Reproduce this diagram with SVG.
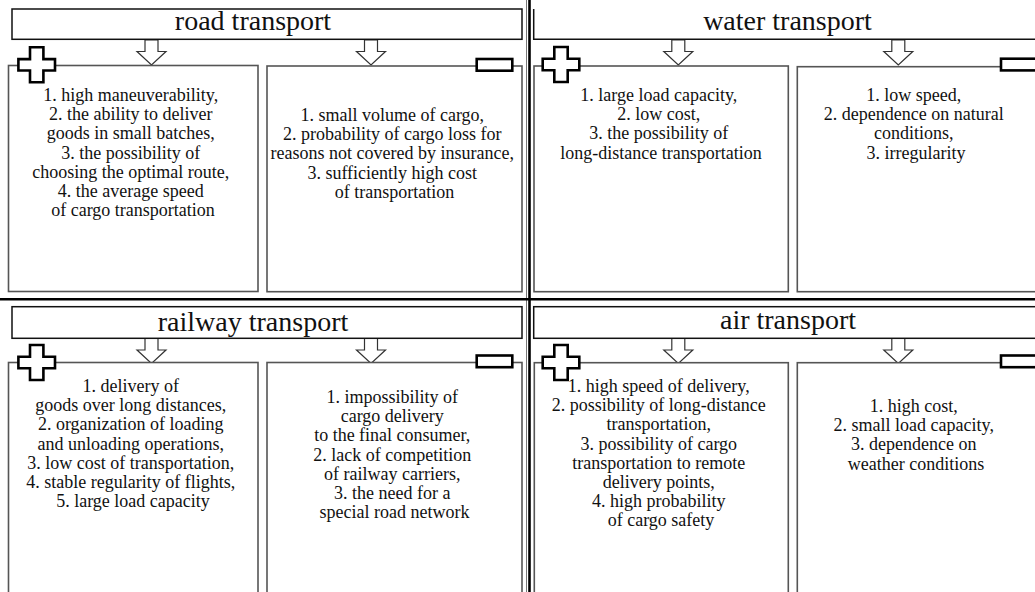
<svg xmlns="http://www.w3.org/2000/svg" xmlns:xlink="http://www.w3.org/1999/xlink" width="1035" height="592" viewBox="0 0 1035 592">
  <defs>
    <style>
      .title { fill: #fff; stroke: #111; stroke-width: 1.5; }
      .box { fill: #fff; stroke: #555; stroke-width: 1.6; }
      .arrow { fill: #fff; stroke: #333; stroke-width: 1.2; }
      .sign { fill: #fff; stroke: #000; stroke-width: 2.6; }
      .div-thin { stroke: #777; stroke-width: 1; }
      .div-thick { stroke: #000; stroke-width: 2.6; }
      text { font-family: "Liberation Serif", "Times New Roman", serif; fill: #111; text-anchor: middle; }
      .h { font-size: 28px; }
      .t { font-size: 18px; }
    </style>
    <!-- hollow down arrow, origin at top centre of the shaft -->
    <path id="down" class="arrow" d="M-6.5,0 H6.5 V11.5 H14.5 L0,25 L-14.5,11.5 H-6.5 Z"/>
    <!-- advantages marker -->
    <path id="plus" class="sign" d="M-6.7,-17.5 H6.7 V-5.7 H18.3 V5.7 H6.7 V17.5 H-6.7 V5.7 H-18.3 V-5.7 H-6.7 Z"/>
    <!-- disadvantages marker -->
    <rect id="minus" class="sign" x="0" y="0" width="35.6" height="11.7"/>
  </defs>

  <rect width="1035" height="592" fill="#fff"/>

  <!-- quadrant dividers -->
  <g id="dividers">
    <line class="div-thin" x1="526.5" y1="0" x2="526.5" y2="592"/>
    <line class="div-thick" x1="529.5" y1="0" x2="529.5" y2="592"/>
    <line class="div-thick" x1="0" y1="299.3" x2="1035" y2="299.3"/>
  </g>

  <!-- title to column arrows -->
  <g id="connectors">
    <use xlink:href="#down" x="151.5" y="40"/>
    <use xlink:href="#down" x="371" y="40"/>
    <use xlink:href="#down" x="678.3" y="40"/>
    <use xlink:href="#down" x="898.3" y="40"/>
    <use xlink:href="#down" x="151.5" y="338.5"/>
    <use xlink:href="#down" x="371" y="338.5"/>
    <use xlink:href="#down" x="678.3" y="338.5"/>
    <use xlink:href="#down" x="898.3" y="338.5"/>
  </g>

  <!-- road transport -->
  <g id="road-title">
    <rect class="title" x="12" y="9" width="510" height="30.3"/>
    <text class="h" x="253" y="30">road transport</text>
  </g>
  <g id="road-pros">
    <rect class="box" x="8.5" y="65.5" width="249.5" height="226"/>
    <use xlink:href="#plus" x="36.7" y="64.8"/>
    <text class="t" x="133">
      <tspan x="133" y="101">1. high maneuverability,</tspan>
      <tspan x="133" dy="19.2">2. the ability to deliver</tspan>
      <tspan x="133" dy="19.2">goods in small batches,</tspan>
      <tspan x="133" dy="19.2">3. the possibility of</tspan>
      <tspan x="133" dy="19.2">choosing the optimal route,</tspan>
      <tspan x="133" dy="19.2">4. the average speed</tspan>
      <tspan x="133" dy="19.2">of cargo transportation</tspan>
    </text>
  </g>
  <g id="road-cons">
    <rect class="box" x="267" y="66" width="255" height="225.7"/>
    <use xlink:href="#minus" x="476.7" y="59"/>
    <text class="t" x="394.5">
      <tspan x="394.5" y="121">1. small volume of cargo,</tspan>
      <tspan x="394.5" dy="19.2">2. probability of cargo loss for</tspan>
      <tspan x="394.5" dy="19.2">reasons not covered by insurance,</tspan>
      <tspan x="394.5" dy="19.2">3. sufficiently high cost</tspan>
      <tspan x="394.5" dy="19.2">of transportation</tspan>
    </text>
  </g>

  <!-- water transport -->
  <g id="water-title">
    <path class="title" d="M533.7,9 V39.3 H1040" fill="none"/>
    <text class="h" x="787.5" y="30">water transport</text>
  </g>
  <g id="water-pros">
    <rect class="box" x="534" y="66" width="254.3" height="225.7"/>
    <use xlink:href="#plus" x="561" y="64.5"/>
    <text class="t" x="661">
      <tspan x="661" y="101">1. large load capacity,</tspan>
      <tspan x="661" dy="19.2">2. low cost,</tspan>
      <tspan x="661" dy="19.2">3. the possibility of</tspan>
      <tspan x="661" dy="19.2">long-distance transportation</tspan>
    </text>
  </g>
  <g id="water-cons">
    <rect class="box" x="797.3" y="66.7" width="250" height="225"/>
    <use xlink:href="#minus" x="1001" y="58.7"/>
    <text class="t" x="916">
      <tspan x="916" y="101">1. low speed,</tspan>
      <tspan x="916" dy="19.2">2. dependence on natural</tspan>
      <tspan x="916" dy="19.2">conditions,</tspan>
      <tspan x="916" dy="19.2">3. irregularity</tspan>
    </text>
  </g>

  <!-- railway transport -->
  <g id="railway-title">
    <rect class="title" x="12" y="306.7" width="510" height="31.6"/>
    <text class="h" x="253" y="331">railway transport</text>
  </g>
  <g id="railway-pros">
    <rect class="box" x="8.5" y="362.5" width="249.5" height="240"/>
    <use xlink:href="#plus" x="36.7" y="362.5"/>
    <text class="t" x="133">
      <tspan x="133" y="392">1. delivery of</tspan>
      <tspan x="133" dy="19.2">goods over long distances,</tspan>
      <tspan x="133" dy="19.2">2. organization of loading</tspan>
      <tspan x="133" dy="19.2">and unloading operations,</tspan>
      <tspan x="133" dy="19.2">3. low cost of transportation,</tspan>
      <tspan x="133" dy="19.2">4. stable regularity of flights,</tspan>
      <tspan x="133" dy="19.2">5. large load capacity</tspan>
    </text>
  </g>
  <g id="railway-cons">
    <rect class="box" x="267" y="362.5" width="255" height="240"/>
    <use xlink:href="#minus" x="476.7" y="355.5"/>
    <text class="t" x="394.5">
      <tspan x="394.5" y="403">1. impossibility of</tspan>
      <tspan x="394.5" dy="19.2">cargo delivery</tspan>
      <tspan x="394.5" dy="19.2">to the final consumer,</tspan>
      <tspan x="394.5" dy="19.2">2. lack of competition</tspan>
      <tspan x="394.5" dy="19.2">of railway carriers,</tspan>
      <tspan x="394.5" dy="19.2">3. the need for a</tspan>
      <tspan x="394.5" dy="19.2">special road network</tspan>
    </text>
  </g>

  <!-- air transport -->
  <g id="air-title">
    <rect class="title" x="533.7" y="306.7" width="520" height="31.6"/>
    <text class="h" x="788" y="329">air transport</text>
  </g>
  <g id="air-pros">
    <rect class="box" x="534.3" y="362.7" width="254" height="240"/>
    <use xlink:href="#plus" x="561" y="362.5"/>
    <text class="t" x="661">
      <tspan x="661" y="392">1. high speed of delivery,</tspan>
      <tspan x="661" dy="19.2">2. possibility of long-distance</tspan>
      <tspan x="661" dy="19.2">transportation,</tspan>
      <tspan x="661" dy="19.2">3. possibility of cargo</tspan>
      <tspan x="661" dy="19.2">transportation to remote</tspan>
      <tspan x="661" dy="19.2">delivery points,</tspan>
      <tspan x="661" dy="19.2">4. high probability</tspan>
      <tspan x="661" dy="19.2">of cargo safety</tspan>
    </text>
  </g>
  <g id="air-cons">
    <rect class="box" x="797.3" y="362.7" width="250" height="240"/>
    <use xlink:href="#minus" x="1001" y="355.5"/>
    <text class="t" x="916">
      <tspan x="916" y="412">1. high cost,</tspan>
      <tspan x="916" dy="19.2">2. small load capacity,</tspan>
      <tspan x="916" dy="19.2">3. dependence on</tspan>
      <tspan x="916" dy="19.2">weather conditions</tspan>
    </text>
  </g>
</svg>
